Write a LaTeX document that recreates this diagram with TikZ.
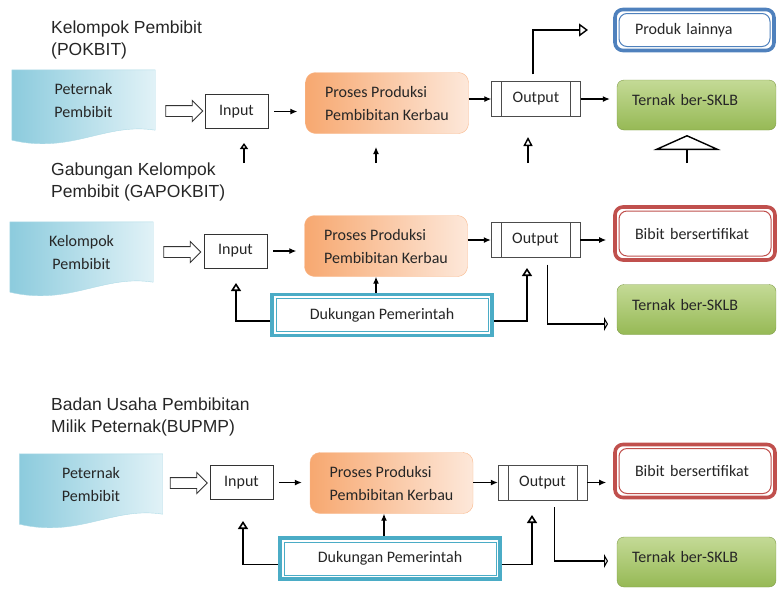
\documentclass[tikz,border=0pt]{standalone}
\usepackage{fontspec}
\setmainfont{Carlito}
\newfontfamily\titlefont{Liberation Sans}
\usetikzlibrary{shapes.arrows,arrows.meta}
\definecolor{docblue}{RGB}{140,203,221}
\definecolor{doclight}{RGB}{225,242,247}
\definecolor{procorange}{RGB}{247,168,112}
\definecolor{proclight}{RGB}{253,232,218}
\definecolor{sklbgreen}{RGB}{150,185,85}
\definecolor{sklblight}{RGB}{196,218,150}
\definecolor{bibitred}{RGB}{192,80,77}
\definecolor{produkblue}{RGB}{79,129,189}
\definecolor{dukcyan}{RGB}{75,172,198}
\pgfdeclarelayer{background}
\pgfsetlayers{background,main}

\begin{document}
\begin{tikzpicture}
  [x=1pt,y=-1pt,
   every node/.style={font=\fontsize{16}{23}\selectfont,inner sep=0pt,text=black!85},
   title/.style={font=\titlefont\fontsize{17.5}{21.5}\selectfont,anchor=west,align=left},
   doc/.style={minimum width=143pt,minimum height=60pt,align=center},
   fatarrow/.style={single arrow,draw=black!80,line width=0.9pt,fill=white,inner xsep=0pt,inner ysep=5pt,minimum height=37pt,minimum width=20pt,single arrow head extend=5pt},
   inbox/.style={draw=black!80,minimum width=63pt,minimum height=34pt},
   procbox/.style={draw=procorange!80,rounded corners=10pt,left color=procorange,right color=proclight,minimum width=163pt,minimum height=61pt,align=left},
   outbox/.style={draw=black!70,minimum width=89pt,minimum height=35pt,
     path picture={\draw[black!70] ([xshift=10pt]path picture bounding box.north west) -- ([xshift=10pt]path picture bounding box.south west);
                   \draw[black!70] ([xshift=-10pt]path picture bounding box.north east) -- ([xshift=-10pt]path picture bounding box.south east);}},
   sklb/.style={draw=sklbgreen!85!black,rounded corners=7pt,top color=sklblight,bottom color=sklbgreen,minimum width=159pt,minimum height=50pt,text width=129pt,inner xsep=15pt,align=left,text depth=10pt},
   dblbox/.style 2 args={draw=#1,line width=3.6pt,fill=white,rounded corners=#2,
     path picture={\draw[#1,line width=1pt,rounded corners=#2] ([shift={(4pt,-4pt)}]path picture bounding box.north west) rectangle ([shift={(-4pt,4pt)}]path picture bounding box.south east);}},
   bibit/.style={dblbox={bibitred}{8pt},minimum width=160pt,minimum height=53pt,text width=120pt,inner xsep=20pt,align=left},
   produk/.style={dblbox={produkblue}{8pt},minimum width=159pt,minimum height=41pt,text width=119pt,inner xsep=20pt,align=left},
   dukungan/.style={dblbox={dukcyan}{0pt},minimum width=220pt,minimum height=41pt},
   conn/.style={line width=1.2pt,-{Latex[length=7pt,width=6pt]}},
   loopline/.style={line width=1.6pt,-{Triangle[open,length=8pt,width=10pt]}}]

  \useasboundingbox (0,0) rectangle (777,590);

  \node[title] (t1) at (51,40) {Kelompok Pembibit\\(POKBIT)};
  \node[doc] (doc1) at (83.5,100) {Peternak\\Pembibit};
  \node[fatarrow] (ar1) at (181.5,111) {};
  \node[inbox] (in1) at (236.5,111.5) {Input};
  \node[procbox] (pr1) at (387,103) {Proses Produksi\\Pembibitan Kerbau};
  \node[outbox] (out1) at (536,99) {Output};
  \node[sklb] (ter1) at (696.5,105) {Ternak ber-SKLB};
  \node[produk] (prod1) at (694.5,30) {Produk lainnya};

  \node[title] (t2) at (51,182) {Gabungan Kelompok\\Pembibit (GAPOKBIT)};
  \node[doc] (doc2) at (81.5,252) {Kelompok\\Pembibit};
  \node[fatarrow] (ar2) at (179.5,252) {};
  \node[inbox] (in2) at (235.5,251) {Input};
  \node[procbox] (pr2) at (386,246) {Proses Produksi\\Pembibitan Kerbau};
  \node[outbox] (out2) at (535.5,240) {Output};
  \node[bibit] (bib2) at (695,233.5) {Bibit bersertifikat};
  \node[sklb] (ter2) at (696.5,309.5) {Ternak ber-SKLB};
  \node[dukungan] (duk2) at (382,315) {Dukungan Pemerintah};

  \node[title] (t3) at (51,417) {Badan Usaha Pembibitan\\Milik Peternak(BUPMP)};
  \node[doc] (doc3) at (91,484) {Peternak\\Pembibit};
  \node[fatarrow] (ar3) at (186,483) {};
  \node[inbox] (in3) at (241.5,482.5) {Input};
  \node[procbox] (pr3) at (391.5,483) {Proses Produksi\\Pembibitan Kerbau};
  \node[outbox] (out3) at (542.5,482.5) {Output};
  \node[bibit] (bib3) at (695,471) {Bibit bersertifikat};
  \node[sklb] (ter3) at (696.5,562) {Ternak ber-SKLB};
  \node[dukungan] (duk3) at (390,558.5) {Dukungan Pemerintah};

  \coordinate (p1) at (588,30);
  \coordinate (l2) at (236,283);
  \coordinate (r2) at (527,268);
  \coordinate (e2) at (608,324);
  \coordinate (l3) at (243,521);
  \coordinate (r3) at (532,515);
  \coordinate (e3) at (608,561);

  \begin{pgfonlayer}{background}
    \foreach \d in {doc1,doc2,doc3}
      \shadedraw[draw=docblue!70,left color=docblue,right color=doclight]
        (\d.north west) -- (\d.north east) -- (\d.south east)
        .. controls +(-50,-8) and +(60,14) .. ([yshift=-10pt]\d.south west) -- cycle;
  \end{pgfonlayer}

  \foreach \r in {1,2,3} {
    \draw[conn,shorten <=6pt,shorten >=8pt] (in\r.east) -- (in\r.east -| pr\r.west);
    \draw[conn] (out\r.west -| pr\r.east) -- (out\r.west);
  }
  \foreach \from/\to in {out1/ter1,out2/bib2,out3/bib3}
    \draw[conn,shorten >=7pt] (\from.east) -- (\from.east -| \to.west);

  \draw[line width=1.4pt,shorten <=7pt,-{Triangle[open,length=9pt,width=13pt]}] ([xshift=-3pt]out1.north) |- (p1);

  \coordinate (a1) at (244,163);
  \coordinate (b1) at (244,143);
  \coordinate (a2) at (376,163);
  \coordinate (b2) at (376,147);
  \coordinate (a3) at (528,163);
  \coordinate (b3) at (528,137);
  \coordinate (a4) at (687,163);
  \coordinate (b4) at (687,135);
  \draw[line width=1.4pt,-{Triangle[open,length=6pt,width=8pt]}] (a1) -- (b1);
  \draw[conn] (a2) -- (b2);
  \draw[line width=1.4pt,-{Triangle[open,length=9pt,width=9pt]}] (a3) -- (b3);
  \draw[line width=1.4pt,-{Triangle[open,length=15pt,width=67pt]}] (a4) -- (b4);

  \foreach \r in {2,3} {
    \draw[conn] ([xshift=-6pt]duk\r.north) -- ([xshift=-6pt]duk\r.north |- pr\r.south);
    \draw[loopline] ([yshift=-6pt]duk\r.west) -| (l\r);
    \draw[loopline] ([yshift=-6pt]duk\r.east) -| (r\r);
    \draw[line width=1.6pt,shorten <=7pt,-{Triangle[open,length=4pt,width=14pt]}] ([xshift=12pt]out\r.south) |- (e\r);
  }
\end{tikzpicture}
\end{document}
